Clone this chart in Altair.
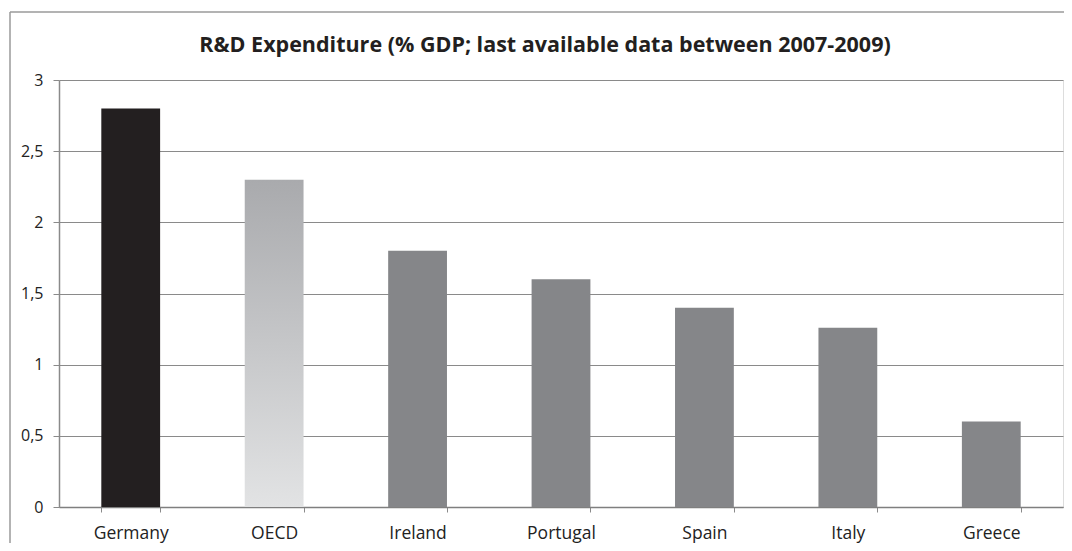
import altair as alt
import pandas as pd

countries = ["Germany", "OECD", "Ireland", "Portugal", "Spain", "Italy", "Greece"]
values = [2.8, 2.3, 1.8, 1.6, 1.4, 1.26, 0.6]
groups = ["Germany", "OECD", "other", "other", "other", "other", "other"]

df = pd.DataFrame({"country": countries, "value": values, "group": groups})

W, H = 1004, 427
FONT = "Open Sans"

x_enc = alt.X(
    "country:N",
    sort=countries,
    scale=alt.Scale(domain=countries, paddingInner=0.59, paddingOuter=0.295),
    axis=alt.Axis(
        title=None, labelAngle=0, tickBand="extent", tickSize=5, tickColor="#8a8a8a",
        domainColor="#7f7f7f", domainWidth=1.5, labelFont=FONT, labelFontSize=17.5,
        labelColor="#222222", labelPadding=12, grid=False,
    ),
)
y_enc = alt.Y(
    "value:Q",
    scale=alt.Scale(domain=[0, 3]),
    axis=alt.Axis(
        title=None, values=[0, 0.5, 1, 1.5, 2, 2.5, 3], tickSize=6, tickColor="#8a8a8a",
        domainColor="#8a8a8a", domainWidth=1.5, gridColor="#8a8a8a", gridWidth=1.2,
        labelFont=FONT, labelFontSize=16, labelColor="#222222", labelPadding=10,
        labelExpr="replace(toString(datum.value), '.', ',')",
    ),
)

base = alt.Chart(df)

germany = base.transform_filter(alt.datum.group == "Germany").mark_bar(color="#231f20").encode(x=x_enc, y=y_enc)
oecd = base.transform_filter(alt.datum.group == "OECD").mark_bar(
    color=alt.Gradient(
        gradient="linear", x1=0, y1=0, x2=0, y2=1,
        stops=[alt.GradientStop(offset=0, color="#a9aaad"), alt.GradientStop(offset=1, color="#e2e3e4")],
    )
).encode(x=x_enc, y=y_enc)
others = base.transform_filter(alt.datum.group == "other").mark_bar(color="#858689").encode(x=x_enc, y=y_enc)

frame_df = pd.DataFrame({"k": [0]})
frame_left = alt.Chart(frame_df).mark_rule(color="#9a9a9a", strokeWidth=1.5).encode(
    x=alt.value(-49), y=alt.value(-68), y2=alt.value(H + 100)
)
frame_top = alt.Chart(frame_df).mark_rule(color="#9a9a9a", strokeWidth=1.5).encode(
    x=alt.value(-49), x2=alt.value(W + 3), y=alt.value(-68)
)

chart = alt.layer(frame_left, frame_top, germany, oecd, others).properties(
    width=W, height=H,
    title=alt.TitleParams(
        "R&D Expenditure (% GDP; last available data between 2007-2009)",
        font=FONT, fontSize=21.5, fontWeight="bold", color="#231f20",
        anchor="middle", dx=-16, offset=-45,
    ),
    autosize=alt.AutoSizeParams(type="none"),
    padding={"left": 51, "top": 72, "right": 1, "bottom": 36},
).configure_view(stroke=None).configure(background="white")

chart.save("out.html", embed_options={"renderer": "svg", "actions": False})
